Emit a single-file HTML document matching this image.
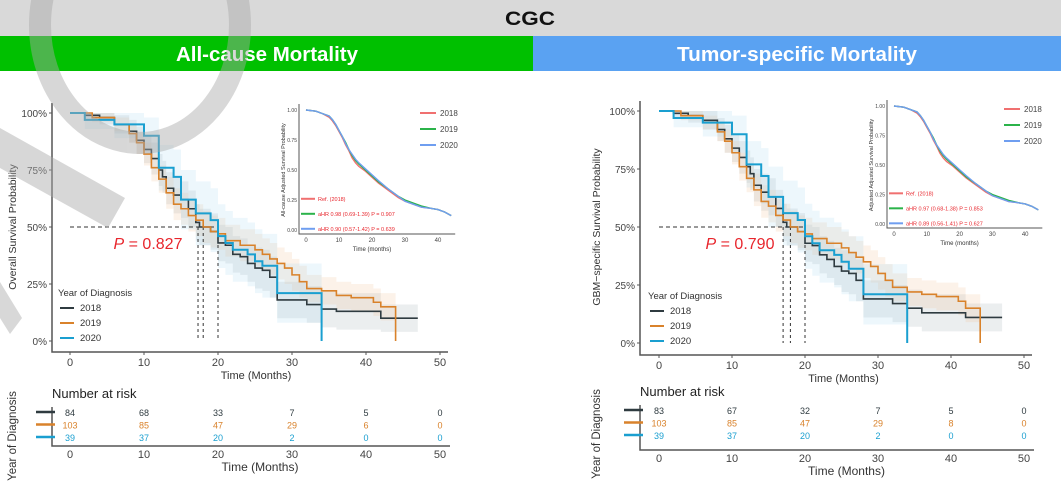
<!DOCTYPE html>
<html><head><meta charset="utf-8">
<style>
html,body{margin:0;padding:0;background:#fff;}
body{width:1061px;height:494px;overflow:hidden;position:relative;font-family:"Liberation Sans",sans-serif;}
svg{position:absolute;left:0;top:0;}
</style></head>
<body>
<svg id="chart" width="1061" height="494" viewBox="0 0 1061 494">
  <rect x="0" y="0" width="1061" height="36" fill="#d9d9d9"/>
  <text x="530" y="25" text-anchor="middle" font-size="19" font-weight="bold" fill="#111" textLength="50" lengthAdjust="spacingAndGlyphs">CGC</text>
  <rect x="0" y="36" width="533" height="35" fill="#00c000"/>
  <rect x="533" y="36" width="528" height="35" fill="#5aa2f2"/>
  <text x="267" y="61" text-anchor="middle" font-size="20" font-weight="bold" fill="#fff" textLength="182" lengthAdjust="spacingAndGlyphs">All-cause Mortality</text>
  <text x="797" y="61" text-anchor="middle" font-size="20" font-weight="bold" fill="#fff" textLength="240" lengthAdjust="spacingAndGlyphs">Tumor-specific Mortality</text>
  <g id="panels"></g>
  <g opacity="0.45">
    <ellipse cx="140" cy="25" rx="100" ry="118" fill="none" stroke="#a8a8a8" stroke-width="22"/>
    <polygon points="0,128 125,198 108,228 0,168" fill="#a8a8a8"/>
    <polygon points="0,282 22,318 10,334 0,318" fill="#a8a8a8"/>
  </g>
</svg>
<script>
// ---- Data: Kaplan-Meier steps (time in months, survival %) ----
const years = ['2018','2019','2020'];
const colors = ['#2f3b40','#d9822b','#1a9fd0'];
const xTicks = [0,10,20,30,40,50];
const yTicks = [0,25,50,75,100];
const yTickLabels = ['0%','25%','50%','75%','100%'];

const A18t = [0,2,4,6,8,9,10,11,12,12.5,13,14,15,16,17,17.5,19,20,21,22,23,24,25,26,27,28,32,34,36,42,47];
const A18s = [100,99,98,95,92,88,84,80,75,72,67,64,62,58,52,50,48,43,42,38,37,34,32,31,28,18,16,14,13,10,10];
const A19t = [0,3,6,8,9,10,11,12,13,14,15,16,17,18,19,20,21,23,25,26,27,28,29,30,31,32,34,36,38,41,42,44,44];
const A19s = [100,98,95,91,87,82,76,71,65,60,58,55,53,50,48,47,44,42,40,38,36,34,32,29,26,23,22,20,19,17,15,13,0];
const A20t = [0,2,6,10,12,14,15,17,19,20,21,22,24,25,26,28,34,34];
const A20s = [100,97,95,90,76,72,62,56,53,46,43,40,38,35,33,21,21,0];
const A18ci = [0,2,3,4,5,6,6,7,7,7,7,8,8,8,8,8,8,8,8,8,8,8,9,9,9,8,8,8,8,6,6];
const A19ci = [0,2,3,4,5,5,6,6,7,7,7,7,7,7,7,7,7,7,7,7,7,7,7,7,7,6,6,6,6,6,6,6,0];
const A20ci = [0,4,6,8,10,12,13,14,14,14,14,14,14,14,14,13,13,0];

const T18t = [0,2,4,6,8,9,10,11,12,12.5,13,14,15,16,17,17.5,19,20,21,22,23,24,25,26,27,28,32,34,36,42,47];
const T18s = [100,99,98,96,92,88,84,80,76,73,68,65,63,58,52,50,48,43,42,38,36,33,31,30,27,19,17,15,13,11,11];
const T19t = [0,3,6,8,9,10,11,12,13,14,15,16,17,18,19,20,21,23,25,26,27,28,29,30,31,32,34,36,38,41,42,44,44];
const T19s = [100,98,95,91,87,82,76,71,66,61,59,55,53,50,48,47,45,43,41,39,37,35,33,30,27,24,22,21,20,18,15,13,0];
const T20t = [0,2,6,10,12,14,15,17,19,20,21,22,24,25,26,28,34,34];
const T20s = [100,97,95,90,77,72,63,56,53,46,43,40,38,35,32,21,21,0];

const insetT = [0,3,5,7,8,9,10,11,12,13,14,15,16,18,20,22,25,28,30,33,35,38,40,42,44];
const in18 = [1.0,0.99,0.97,0.94,0.91,0.87,0.82,0.77,0.71,0.66,0.60,0.56,0.53,0.49,0.44,0.39,0.33,0.27,0.24,0.21,0.19,0.18,0.17,0.15,0.12];
const in19 = [1.0,0.99,0.97,0.95,0.92,0.88,0.83,0.78,0.73,0.67,0.62,0.58,0.55,0.50,0.45,0.40,0.34,0.28,0.25,0.22,0.20,0.18,0.17,0.15,0.12];
const in20 = [1.0,0.99,0.97,0.95,0.92,0.88,0.83,0.78,0.72,0.67,0.63,0.59,0.56,0.51,0.46,0.41,0.34,0.28,0.24,0.21,0.19,0.18,0.17,0.15,0.12];
const inTicks = [0,10,20,30,40];
const inYTicks = [0,0.25,0.5,0.75,1.0];
const inYLabels = ['0.00','0.25','0.50','0.75','1.00'];

const riskA = [[84,68,33,7,5,0],[103,85,47,29,6,0],[39,37,20,2,0,0]];
const riskT = [[83,67,32,7,5,0],[103,85,47,29,8,0],[39,37,20,2,0,0]];
const mediansA = [17.3,18,20];
const mediansT = [17,18,20];
const pA = 'P = 0.827', pT = 'P = 0.790';
const inLegA = ['Ref. (2018)','aHR 0.98 (0.69-1.39) P = 0.907','aHR 0.90 (0.57-1.42) P = 0.639'];
const inLegT = ['Ref. (2018)','aHR 0.97 (0.68-1.38) P = 0.853','aHR 0.89 (0.56-1.41) P = 0.627'];

const NS='http://www.w3.org/2000/svg';
const root=document.getElementById('panels');
function el(tag,attrs,parent,txt){const e=document.createElementNS(NS,tag);for(const k in attrs)e.setAttribute(k,attrs[k]);if(txt!==undefined)e.textContent=txt;(parent||root).appendChild(e);return e;}

function stepPath(ts,ss,X,Y){let d='M'+X(ts[0])+','+Y(ss[0]);for(let i=1;i<ts.length;i++){d+='H'+X(ts[i])+'V'+Y(ss[i]);}return d;}
function bandPath(ts,ss,ci,X,Y){let up='',lo=[];for(let i=0;i<ts.length;i++){const x0=X(ts[i]),x1=X(i<ts.length-1?ts[i+1]:ts[i]);const hi=Math.min(100,ss[i]+ci[i]),l=Math.max(0,ss[i]-ci[i]);up+=(i?'L':'M')+x0+','+Y(hi)+'L'+x1+','+Y(hi);lo.unshift(x1+','+Y(l),x0+','+Y(l));}return up+'L'+lo.join('L')+'Z';}

function panel(cfg){
  const g=el('g',{});
  
  
  const X=t=>cfg.x0+t*cfg.px, Y=s=>cfg.y0-s*cfg.py;
  const ser=[[cfg.d[0],cfg.d[1],cfg.ci[0]],[cfg.d[2],cfg.d[3],cfg.ci[1]],[cfg.d[4],cfg.d[5],cfg.ci[2]]];
  const bandCols=['#9aa8ad','#efbf90','#a6d6ee'];
  ser.forEach((s,i)=>{const b=el('path',{d:bandPath(s[0],s[1],s[2],X,Y),fill:bandCols[i],opacity:0.2},g);
    
    });
  const ml=el('path',{d:'M'+X(0)+','+Y(50)+'H'+X(Math.max(...cfg.med)),stroke:'#333','stroke-width':1,'stroke-dasharray':'4,3',fill:'none'},g);
  
  
  cfg.med.forEach((m,i)=>{const v=el('path',{d:'M'+X(m)+','+Y(50)+'V'+Y(0),stroke:'#333','stroke-width':1,'stroke-dasharray':'3,3'},g);
    
    });
  ser.forEach((s,i)=>{const p=el('path',{d:stepPath(s[0],s[1],X,Y),stroke:colors[i],'stroke-width':i==2?2:1.6,fill:'none'},g);
    
    });
  el('path',{d:'M'+cfg.ax+','+(Y(100)-10)+'V'+cfg.ay+'H'+(X(50)+8),stroke:'#555','stroke-width':1.5,fill:'none'},g);
  yTicks.forEach((v,i)=>{el('line',{x1:cfg.ax-3,x2:cfg.ax,y1:Y(v),y2:Y(v),stroke:'#555'},g);
    const t=el('text',{x:cfg.ax-5,y:Y(v)+4,'text-anchor':'end','font-size':10,fill:'#444'},g,yTickLabels[i]);
    
    });
  xTicks.forEach(v=>{el('line',{x1:X(v),x2:X(v),y1:cfg.ay,y2:cfg.ay+3,stroke:'#555'},g);
    const t=el('text',{x:X(v),y:cfg.ay+14,'text-anchor':'middle','font-size':11,fill:'#444'},g,v);
    
    });
  const xt=el('text',{x:X(25)+cfg.xto,y:cfg.ay+27,'text-anchor':'middle','font-size':11,fill:'#333'},g,'Time (Months)');
  
  
  const yt=el('text',{x:0,y:0,transform:'translate('+cfg.ytx+','+Y(50)+') rotate(-90)','text-anchor':'middle','font-size':10.5,fill:'#333'},g,cfg.ytitle);
  
  
  const pv=el('text',{x:cfg.px0,y:Y(50)+22,'text-anchor':'middle','font-size':16,fill:'#e8262d'},g);
  
  
  el('tspan',{'font-style':'italic'},pv,'P');el('tspan',{},pv,cfg.p.slice(1));
  const lg=el('g',{},g);
  
  
  el('text',{x:cfg.lx,y:cfg.ly,'font-size':9.5,fill:'#333'},lg,'Year of Diagnosis');
  years.forEach((yr,i)=>{const yy=cfg.ly+15*(i+1);
    el('line',{x1:cfg.lx+2,x2:cfg.lx+16,y1:yy-3,y2:yy-3,stroke:colors[i],'stroke-width':2},lg);
    const t=el('text',{x:cfg.lx+22,y:yy,'font-size':9.5,fill:'#333'},lg,yr);
    
    });
  const ig=el('g',{},g);
  
  
  const IX=t=>cfg.ix0+t*cfg.ipx, IY=s=>cfg.iy0-s*cfg.ipy;
  el('path',{d:'M'+(cfg.ix0-7)+','+(IY(1)-6)+'V'+(cfg.iy0+4)+'H'+(IX(44)+4),stroke:'#555','stroke-width':1,fill:'none'},ig);
  inYTicks.forEach((v,i)=>{el('text',{x:cfg.ix0-9,y:IY(v)+2,'text-anchor':'end','font-size':5,fill:'#444'},ig,inYLabels[i]);});
  inTicks.forEach(v=>{el('text',{x:IX(v),y:cfg.iy0+12,'text-anchor':'middle','font-size':6,fill:'#444'},ig,v);});
  el('text',{x:IX(20),y:cfg.iy0+21,'text-anchor':'middle','font-size':6,fill:'#333'},ig,'Time (months)');
  el('text',{x:0,y:0,transform:'translate('+(cfg.ix0-21)+','+IY(0.5)+') rotate(-90)','text-anchor':'middle','font-size':5.5,fill:'#333'},ig,cfg.iytitle);
  const icol=['#f07070','#2bb34a','#6f9ef0'];
  [in18,in19,in20].forEach((s,i)=>{let d='';insetT.forEach((t,j)=>{d+=(j?'L':'M')+IX(t)+','+IY(s[j]);});
    const p=el('path',{d:d,stroke:icol[i],'stroke-width':1.4,fill:'none'},ig);
    
    });
  years.forEach((yr,i)=>{const yy=IY(1)+3+i*16;
    el('line',{x1:cfg.ilx,x2:cfg.ilx+16,y1:yy,y2:yy,stroke:icol[i],'stroke-width':2},ig);
    el('text',{x:cfg.ilx+20,y:yy+3,'font-size':8,fill:'#444'},ig,yr);});
  cfg.il.forEach((s,i)=>{const yy=IY(0.26)+i*15;
    el('line',{x1:cfg.ix0-5,x2:cfg.ix0+9,y1:yy,y2:yy,stroke:icol[i],'stroke-width':2},ig);
    el('text',{x:cfg.ix0+12,y:yy+2,'font-size':5.5,fill:'#e8262d'},ig,s);});
  const rg=el('g',{},g);
  
  
  el('text',{x:cfg.ax,y:cfg.ry,'font-size':13,fill:'#222'},rg,'Number at risk');
  el('path',{d:'M'+cfg.ax+','+(cfg.ry+9)+'V'+cfg.ray+'H'+(X(50)+10),stroke:'#555','stroke-width':1.5,fill:'none'},rg);
  cfg.risk.forEach((row,i)=>{const yy=cfg.ry+18+i*12.5;
    el('line',{x1:cfg.ax-16,x2:cfg.ax+3,y1:yy-4,y2:yy-4,stroke:colors[i],'stroke-width':2.5},rg);
    row.forEach((v,j)=>{const t=el('text',{x:X(xTicks[j]),y:yy,'text-anchor':'middle','font-size':9,fill:colors[i]},rg,v);
      
      });});
  xTicks.forEach(v=>{el('text',{x:X(v),y:cfg.ray+12,'text-anchor':'middle','font-size':11,fill:'#444'},rg,v);});
  el('text',{x:X(25)+5,y:cfg.ray+25,'text-anchor':'middle','font-size':12,fill:'#333'},rg,'Time (Months)');
  el('text',{x:0,y:0,transform:'translate('+(cfg.ytx)+','+(cfg.ry+38)+') rotate(-90)','text-anchor':'middle','font-size':11.5,fill:'#333'},rg,'Year of Diagnosis');
}

panel({name:'all-cause-panel',x0:70,px:7.4,y0:341,py:2.28,ax:52,ay:352,ytx:16,xto:1,ytitle:'Overall Survival Probability',
  d:[A18t,A18s,A19t,A19s,A20t,A20s],ci:[A18ci,A19ci,A20ci],med:mediansA,p:pA,px0:148,lx:58,ly:296,
  ix0:306,ipx:3.3,iy0:230,ipy:120,ilx:420,iytitle:'All-cause Adjusted Survival Probability',il:inLegA,
  risk:riskA,ry:398,ray:446});
panel({name:'tumor-specific-panel',x0:659,px:7.3,y0:343,py:2.32,ax:640,ay:355,ytx:600,xto:2,ytitle:'GBM\u2212specific Survival Probability',
  d:[T18t,T18s,T19t,T19s,T20t,T20s],ci:[A18ci,A19ci,A20ci],med:mediansT,p:pT,px0:740,lx:648,ly:299,
  ix0:894,ipx:3.28,iy0:224,ipy:118,ilx:1004,iytitle:'Adjusted Adjusted Survival Probability',il:inLegT,
  risk:riskT,ry:396,ray:450});
</script>
</body></html>
